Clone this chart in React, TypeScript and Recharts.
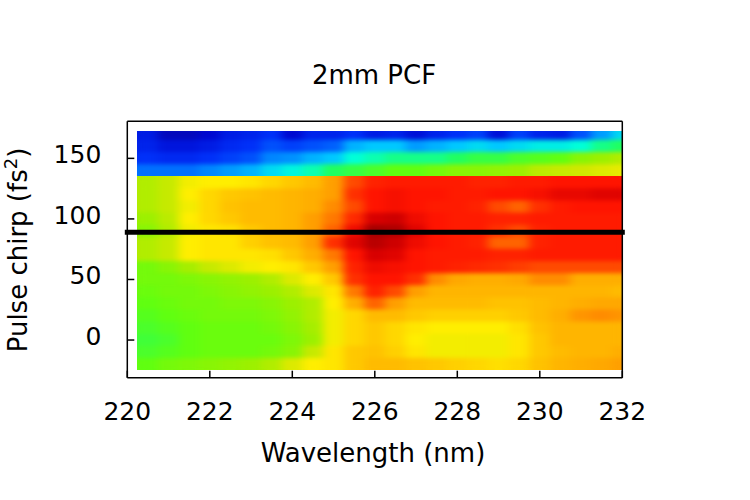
import { ScatterChart, Scatter, XAxis, YAxis, ReferenceLine } from 'recharts'

// wavelength column centres (nm) and chirp row centres (fs^2), top row first
const WAVELENGTHS = [
  220.5, 221, 221.5, 222, 222.5, 223, 223.5, 224, 224.5, 225, 225.5, 226,
  226.5, 227, 227.5, 228, 228.5, 229, 229.5, 230, 230.5, 231, 231.5, 232,
]
const CHIRPS = [170, 160, 150, 140, 130, 120, 110, 100, 90, 80, 70, 60, 50, 40, 30, 20, 10, 0, -10, -20]

// signal level 0..100, one row per chirp
const SIGNAL = [
  [11, 6, 6, 8, 11, 12, 14, 8, 12, 12, 14, 11, 12, 9, 12, 14, 16, 9, 16, 12, 11, 18, 26, 32],
  [12, 10, 10, 11, 13, 14, 18, 16, 18, 20, 28, 30, 30, 26, 28, 30, 32, 30, 32, 34, 34, 36, 40, 42],
  [14, 13, 13, 14, 16, 18, 24, 25, 28, 30, 36, 38, 40, 40, 40, 42, 44, 44, 46, 47, 48, 52, 54, 56],
  [22, 22, 22, 24, 26, 28, 32, 35, 38, 42, 44, 46, 48, 48, 50, 52, 52, 53, 54, 57, 58, 59, 60, 61],
  [56, 58, 62, 63, 63, 64, 66, 68, 70, 74, 82, 86, 87, 87, 87, 87, 86, 86, 87, 87, 88, 88, 88, 88],
  [56, 58, 63, 66, 68, 69, 70, 71, 72, 74, 84, 88, 89, 88, 88, 87, 87, 88, 88, 89, 91, 91, 92, 92],
  [56, 58, 62, 66, 69, 70, 70, 71, 72, 76, 82, 88, 89, 88, 87, 87, 86, 82, 80, 84, 87, 88, 88, 88],
  [54, 57, 63, 66, 68, 70, 70, 71, 74, 78, 85, 93, 94, 90, 88, 87, 87, 86, 86, 87, 87, 87, 87, 87],
  [52, 56, 62, 64, 65, 68, 70, 71, 74, 80, 90, 98, 97, 92, 88, 87, 87, 84, 82, 86, 87, 87, 87, 87],
  [56, 58, 63, 64, 64, 67, 69, 70, 74, 84, 92, 96, 94, 90, 88, 87, 86, 80, 80, 86, 87, 87, 87, 87],
  [56, 58, 63, 64, 64, 64, 65, 68, 72, 78, 88, 93, 92, 88, 87, 87, 87, 86, 86, 87, 87, 87, 87, 87],
  [50, 52, 55, 58, 60, 62, 63, 64, 68, 74, 86, 90, 89, 88, 87, 86, 85, 84, 83, 82, 82, 82, 82, 82],
  [50, 50, 51, 52, 53, 54, 56, 60, 63, 68, 84, 88, 88, 84, 76, 73, 72, 72, 73, 76, 76, 72, 72, 72],
  [49, 50, 50, 51, 52, 53, 54, 56, 60, 64, 78, 86, 82, 74, 71, 71, 71, 71, 71, 71, 71, 71, 71, 70],
  [48, 49, 50, 50, 51, 51, 52, 54, 56, 63, 72, 80, 74, 70, 70, 70, 70, 69, 69, 70, 71, 72, 73, 73],
  [47, 48, 49, 50, 50, 50, 51, 53, 56, 62, 66, 70, 70, 68, 67, 67, 67, 67, 68, 70, 72, 75, 76, 75],
  [46, 47, 48, 49, 49, 49, 50, 52, 55, 62, 66, 68, 66, 64, 63, 63, 63, 63, 65, 69, 71, 71, 71, 71],
  [45, 46, 48, 49, 49, 49, 49, 51, 54, 62, 66, 68, 66, 63, 62, 62, 62, 62, 64, 68, 71, 71, 71, 71],
  [46, 47, 48, 49, 49, 49, 50, 52, 58, 64, 68, 69, 67, 64, 62, 62, 62, 62, 64, 68, 70, 71, 71, 72],
  [48, 50, 51, 52, 53, 54, 56, 60, 63, 64, 68, 70, 70, 69, 68, 67, 66, 65, 66, 69, 71, 72, 73, 74],
]

const X_TICKS = [220, 222, 224, 226, 228, 230, 232]
const Y_TICKS = [0, 50, 100, 150]
const X_DOMAIN: [number, number] = [220, 232]
const Y_DOMAIN: [number, number] = [-31.1, 180.6]
// measured edges of the scanned area
const HEAT_EDGES = { left: 220.25, right: 232, bottom: -24, top: 172 }
const BAND_SPLIT = 135
const MARKER_CHIRP = 89

const W = 750
const H = 500
const PLOT = { left: 127.3, top: 121.3, right: 622.3, bottom: 377.7 }
const Y_AXIS_W = 60
const X_AXIS_H = 60
const MIRROR = 1
const FONT = "'DejaVu Sans', sans-serif"

const PX_X = (PLOT.right - PLOT.left) / (X_DOMAIN[1] - X_DOMAIN[0])
const PX_Y = (PLOT.bottom - PLOT.top) / (Y_DOMAIN[1] - Y_DOMAIN[0])

const STOPS: [number, string][] = [
  [0, '#100a80'], [8, '#0008d0'], [14, '#0030f8'], [22, '#0070ff'], [30, '#00c8ff'],
  [36, '#00ffd8'], [42, '#20ff60'], [48, '#60ff10'], [54, '#9cf000'], [59, '#d0e800'],
  [63, '#ffee00'], [68, '#ffc800'], [73, '#ffa800'], [79, '#ff7000'], [84, '#ff3000'],
  [88, '#ff1400'], [93, '#d80000'], [100, '#900000'],
]

function hex(c: string) {
  return [1, 3, 5].map((i) => parseInt(c.slice(i, i + 2), 16))
}

function colour(v: number) {
  for (let i = 1; i < STOPS.length; i++) {
    const [v1, c1] = STOPS[i]
    if (v <= v1) {
      const [v0, c0] = STOPS[i - 1]
      const t = (v - v0) / (v1 - v0)
      const a = hex(c0)
      const b = hex(c1)
      const rgb = a.map((x, k) => Math.round(x + (b[k] - x) * t))
      return `rgb(${rgb.join(',')})`
    }
  }
  return STOPS[STOPS.length - 1][1]
}

const cells = CHIRPS.flatMap((chirp, j) =>
  WAVELENGTHS.map((wl, i) => ({
    wl,
    chirp,
    level: SIGNAL[j][i],
    x0: i === 0 ? HEAT_EDGES.left : (WAVELENGTHS[i - 1] + wl) / 2,
    x1: i === WAVELENGTHS.length - 1 ? HEAT_EDGES.right : (wl + WAVELENGTHS[i + 1]) / 2,
    y1: j === 0 ? HEAT_EDGES.top : (CHIRPS[j - 1] + chirp) / 2,
    y0: j === CHIRPS.length - 1 ? HEAT_EDGES.bottom : (chirp + CHIRPS[j + 1]) / 2,
  })),
)
const upperCells = cells.filter((c) => c.chirp > BAND_SPLIT)
const lowerCells = cells.filter((c) => c.chirp < BAND_SPLIT)

function HeatCell(props: any) {
  const { cx, cy, payload } = props
  const left = cx - (payload.wl - payload.x0) * PX_X
  const right = cx + (payload.x1 - payload.wl) * PX_X
  const top = cy - (payload.y1 - payload.chirp) * PX_Y
  const bottom = cy + (payload.chirp - payload.y0) * PX_Y
  return (
    <rect
      x={left - 0.3}
      y={top - 0.3}
      width={right - left + 0.6}
      height={bottom - top + 0.6}
      fill={colour(payload.level)}
    />
  )
}

const axisStroke = { stroke: '#000', strokeWidth: 1.5 }
const tickFont = { fill: '#000', fontSize: 25, fontFamily: FONT }

export default function App() {
  return (
    <div style={{ position: 'relative', width: W, height: H }}>
      <style>{`body{margin:0} .heat-band{filter:url(#heatSmooth)}`}</style>
      <ScatterChart
        width={W}
        height={H}
        margin={{
          top: PLOT.top - MIRROR,
          right: W - PLOT.right - MIRROR,
          bottom: H - PLOT.bottom - X_AXIS_H,
          left: PLOT.left - Y_AXIS_W,
        }}
      >
        <XAxis
          dataKey="wl"
          type="number"
          domain={X_DOMAIN}
          allowDataOverflow
          ticks={X_TICKS}
          height={X_AXIS_H}
          tickSize={-7}
          tickMargin={32}
          axisLine={axisStroke}
          tickLine={axisStroke}
          tick={tickFont}
          zIndex={700}
        />
        <XAxis
          xAxisId="top"
          dataKey="wl"
          orientation="top"
          type="number"
          domain={X_DOMAIN}
          allowDataOverflow
          ticks={X_TICKS}
          height={MIRROR}
          tickSize={-7}
          axisLine={axisStroke}
          tickLine={axisStroke}
          tick={false}
          zIndex={700}
        />
        <YAxis
          dataKey="chirp"
          type="number"
          domain={Y_DOMAIN}
          allowDataOverflow
          ticks={Y_TICKS}
          width={Y_AXIS_W}
          tickSize={-7}
          tickMargin={33}
          axisLine={axisStroke}
          tickLine={axisStroke}
          tick={{ ...tickFont, dy: -4 }}
          zIndex={700}
        />
        <YAxis
          yAxisId="right"
          dataKey="chirp"
          orientation="right"
          type="number"
          domain={Y_DOMAIN}
          allowDataOverflow
          ticks={Y_TICKS}
          width={MIRROR}
          tickSize={-7}
          axisLine={axisStroke}
          tickLine={axisStroke}
          tick={false}
          zIndex={700}
        />
        <Scatter
          className="heat-band"
          data={upperCells}
          xAxisId="top"
          yAxisId="right"
          shape={HeatCell}
          isAnimationActive={false}
        />
        <Scatter className="heat-band" data={lowerCells} shape={HeatCell} isAnimationActive={false} />
        <ReferenceLine
          y={MARKER_CHIRP}
          stroke="#000"
          strokeWidth={5}
          strokeLinecap="square"
          zIndex={800}
        />
      </ScatterChart>
      <svg
        width={W}
        height={H}
        style={{ position: 'absolute', left: 0, top: 0, pointerEvents: 'none' }}
      >
        <defs>
          <filter id="heatSmooth" x="0" y="0" width="1" height="1" colorInterpolationFilters="sRGB">
            <feGaussianBlur stdDeviation="5 2" />
            <feComponentTransfer>
              <feFuncA type="table" tableValues="1 1" />
            </feComponentTransfer>
          </filter>
        </defs>
        <text x={374} y={84} textAnchor="middle" fontFamily={FONT} fontSize={26} fill="#000">
          2mm PCF
        </text>
        <text x={373} y={462} textAnchor="middle" fontFamily={FONT} fontSize={26} fill="#000">
          Wavelength (nm)
        </text>
        <text
          transform="translate(27 250) rotate(-90)"
          textAnchor="middle"
          fontFamily={FONT}
          fontSize={26}
          fill="#000"
        >
          Pulse chirp (fs<tspan dy={-10} fontSize={18}>2</tspan>
          <tspan dy={10}>)</tspan>
        </text>
      </svg>
    </div>
  )
}
